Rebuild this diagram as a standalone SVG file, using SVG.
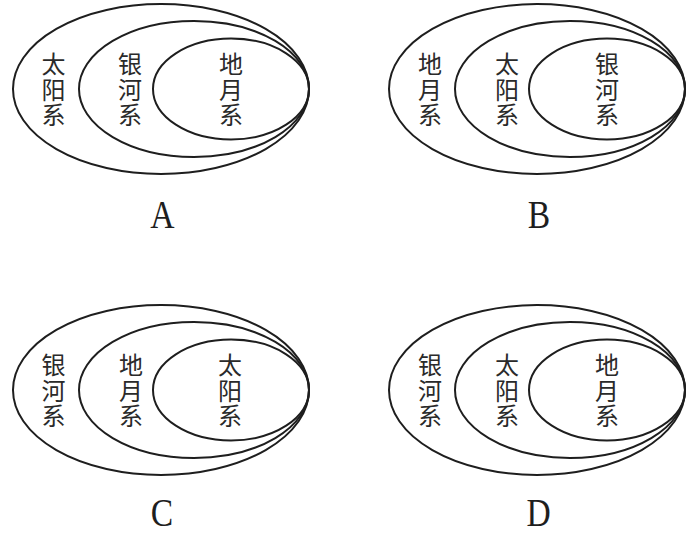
<svg xmlns="http://www.w3.org/2000/svg" width="694" height="535" viewBox="0 0 694 535">
<style>
.ring{fill:none;stroke:#1e1e1e;stroke-width:2}
.cjk{font-family:"Noto Sans CJK SC","Noto Sans CJK TC",sans-serif;font-size:24px;fill:#2a2a2a;writing-mode:vertical-rl}
.lab{font-family:"Liberation Serif","DejaVu Serif",serif;font-size:41px;fill:#1e1e1e;text-anchor:middle}
.lab2{font-size:40px}
</style>
<rect width="694" height="535" fill="#ffffff"/>

<g id="panelA">
  <g id="A-outer"><ellipse class="ring" cx="161" cy="89" rx="148" ry="85"/>
    <text class="cjk"><tspan x="53.5" y="52">太</tspan><tspan x="53.5" y="77.5">阳</tspan><tspan x="53.5" y="103">系</tspan></text></g>
  <g id="A-middle"><ellipse class="ring" cx="194" cy="89" rx="115" ry="68"/>
    <text class="cjk"><tspan x="130" y="52">银</tspan><tspan x="130" y="77.5">河</tspan><tspan x="130" y="103">系</tspan></text></g>
  <g id="A-inner"><ellipse class="ring" cx="231" cy="89" rx="78" ry="50.5"/>
    <text class="cjk"><tspan x="231" y="52">地</tspan><tspan x="231" y="77.5">月</tspan><tspan x="231" y="103">系</tspan></text></g>
  <text id="A-label" class="lab" transform="translate(162.5,228) scale(0.82,1)">A</text>
</g>

<g id="panelB">
  <g id="B-outer"><ellipse class="ring" cx="537" cy="89" rx="148" ry="85"/>
    <text class="cjk"><tspan x="430" y="52">地</tspan><tspan x="430" y="77.5">月</tspan><tspan x="430" y="103">系</tspan></text></g>
  <g id="B-middle"><ellipse class="ring" cx="570" cy="89" rx="115" ry="68"/>
    <text class="cjk"><tspan x="507" y="52">太</tspan><tspan x="507" y="77.5">阳</tspan><tspan x="507" y="103">系</tspan></text></g>
  <g id="B-inner"><ellipse class="ring" cx="607" cy="89" rx="78" ry="50.5"/>
    <text class="cjk"><tspan x="607" y="52">银</tspan><tspan x="607" y="77.5">河</tspan><tspan x="607" y="103">系</tspan></text></g>
  <text id="B-label" class="lab" transform="translate(539,228) scale(0.82,1)">B</text>
</g>

<g id="panelC">
  <g id="C-outer"><ellipse class="ring" cx="161" cy="390" rx="148" ry="85"/>
    <text class="cjk"><tspan x="53.5" y="353">银</tspan><tspan x="53.5" y="378.5">河</tspan><tspan x="53.5" y="404">系</tspan></text></g>
  <g id="C-middle"><ellipse class="ring" cx="194" cy="390" rx="115" ry="68"/>
    <text class="cjk"><tspan x="131" y="353">地</tspan><tspan x="131" y="378.5">月</tspan><tspan x="131" y="404">系</tspan></text></g>
  <g id="C-inner"><ellipse class="ring" cx="231" cy="390" rx="78" ry="50.5"/>
    <text class="cjk"><tspan x="230" y="353">太</tspan><tspan x="230" y="378.5">阳</tspan><tspan x="230" y="404">系</tspan></text></g>
  <text id="C-label" class="lab lab2" transform="translate(162,526) scale(0.84,1)">C</text>
</g>

<g id="panelD">
  <g id="D-outer"><ellipse class="ring" cx="537" cy="390" rx="148" ry="85"/>
    <text class="cjk"><tspan x="430" y="353">银</tspan><tspan x="430" y="378.5">河</tspan><tspan x="430" y="404">系</tspan></text></g>
  <g id="D-middle"><ellipse class="ring" cx="570" cy="390" rx="115" ry="68"/>
    <text class="cjk"><tspan x="507" y="353">太</tspan><tspan x="507" y="378.5">阳</tspan><tspan x="507" y="404">系</tspan></text></g>
  <g id="D-inner"><ellipse class="ring" cx="607" cy="390" rx="78" ry="50.5"/>
    <text class="cjk"><tspan x="607" y="353">地</tspan><tspan x="607" y="378.5">月</tspan><tspan x="607" y="404">系</tspan></text></g>
  <text id="D-label" class="lab lab2" transform="translate(538.5,526) scale(0.84,1)">D</text>
</g>
</svg>
